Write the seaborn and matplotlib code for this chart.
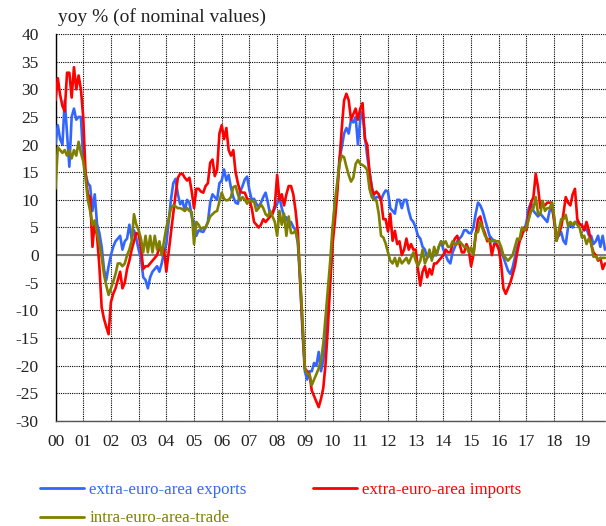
import numpy as np
import pandas as pd
import matplotlib
matplotlib.use("Agg")
import matplotlib.pyplot as plt
import seaborn as sns

# monthly yoy % changes, Jan 2000 - Nov 2019
exports = [
    20, 23.5, 21, 20, 28, 22, 16, 25, 26.5, 24.5, 25, 25,            # 2000
    17.7, 14.7, 13, 12.5, 8, 11, 5.6, 4, 1.5, -2.5, -4.5, -2,        # 2001
    0, 1.5, 2.5, 3, 3.5, 1, 2.5, 3, 5.5, 3, 4.5, 3,                  # 2002
    1, -0.5, -4, -4.5, -6, -4, -3, -2.5, -2, -3, -1.5, 0.5,          # 2003
    2, 6, 10, 13, 13.8, 11, 9.2, 9.8, 8, 10, 9.5, 7,                 # 2004
    5.5, 3.5, 4.5, 4.3, 4.2, 5, 6, 9.5, 11, 10.5, 10, 13,            # 2005
    13.5, 15.5, 13.5, 14.5, 12.2, 10.5, 9.5, 9.3, 11.5, 12.5, 13.7, 14.2,  # 2006
    11.7, 10, 10.2, 9.3, 8.7, 9.5, 10.5, 11.3, 9.5, 7.1, 7.5, 8.5,   # 2007
    9.3, 10.5, 8.5, 7, 6.8, 5.6, 6, 5.1, 4.5, 2, -5, -14,            # 2008
    -21, -22.5, -21, -21, -19.5, -20, -17.5, -21, -19, -15, -10, -4, # 2009
    4, 9, 12, 17.5, 19.5, 22, 23, 22, 24.5, 24, 25, 20,              # 2010
    24.5, 26, 21.5, 18, 15, 12.5, 10, 10.5, 10.5, 10, 11, 11.7,      # 2011
    11.5, 8.5, 8, 7.5, 10, 10, 8.5, 10, 10, 8, 6.5, 6,               # 2012
    5, 3.5, 3, 1.5, 1, -0.5, 0, -0.5, 0, 0, 1.5, 2.5,                # 2013
    1, 0, -1, -1.5, 0.5, 1.5, 2.5, 3, 3.5, 4.5, 4.5, 4,              # 2014
    4, 5, 7.5, 9.5, 9, 8, 6.5, 5, 3.5, 3, 2.5, 2,                    # 2015
    1.4, 0.8, -0.4, -1.6, -2.8, -3.4, -2.2, -0.4, 1.4, 2.7, 3.9, 4.4,  # 2016
    6, 8.5, 9.5, 8, 7.5, 7, 7.5, 7, 6.5, 6, 8, 8.5,                  # 2017
    6.5, 3.2, 3.5, 4.2, 2.6, 2, 5, 5.5, 5, 6, 6, 5.6,                # 2018
    5.4, 4.5, 4.8, 3.6, 3.5, 2, 2.5, 3.5, 1.5, 3.5, 1,               # 2019
]

imports = [
    28, 32, 29, 27, 26, 33, 33, 28.5, 34, 30, 32.5, 30,              # 2000
    25, 15, 11, 10.5, 1.5, 6, 3.4, -2, -9.5, -11.5, -13, -14.3,      # 2001
    -8.5, -7, -6, -4.5, -3, -6, -5, -2.5, -1, 1, 2.5, 4,             # 2002
    3.8, 1.4, -2.5, -2, -2, -1.5, -1, -0.5, 0, 1.5, 0.5, 1,          # 2003
    -3, 0.5, 4, 7.5, 11, 14, 14.7, 14.7, 14, 13.5, 14, 11.5,         # 2004
    8.5, 12, 12, 11.5, 11.3, 12.5, 13, 16.7, 17.3, 14.3, 15.5, 22,   # 2005
    23.5, 21, 23, 19, 18, 19, 15, 13, 11.5, 11.3, 11.3, 10.2,        # 2006
    10, 8.5, 6, 5.5, 5, 5.5, 6.5, 6, 6.5, 7, 7.5, 9,                 # 2007
    14.5, 10, 11, 9, 11, 12.5, 12.5, 11, 8, 4, -5, -13,              # 2008
    -20.5, -21, -21.5, -24.5, -25.5, -26.5, -27.5, -26, -24, -19.5, -13, -5,  # 2009
    2, 6, 11, 17, 23, 28, 29.2, 28, 24.5, 25.5, 26.5, 24.5,          # 2010
    26.5, 27.5, 21, 20, 15, 12, 11, 11.5, 11, 10, 6.5, 6.5,          # 2011
    4.3, 7.5, 2.6, 4.4, 2, 2.5, 0, 1, 3, 1, 2, 1,                    # 2012
    1, -2.5, -5.5, -3, -2, -4, -2.5, -3.5, -1.5, -1.5, -1, -0.5,     # 2013
    0, 1, 0.5, 0.5, 2, 3, 3.5, 2, 0.5, 0.5, 2, 1,                    # 2014
    -2, 0, 3.5, 6.5, 7, 5, 4, 2.5, 3, 0, 2, 2,                       # 2015
    1, -1.5, -6, -7, -6, -5, -3.5, -2, 0.5, 2.5, 3.5, 5,             # 2016
    4.5, 7.5, 9.5, 10.5, 14.7, 12.3, 8.5, 9.3, 9, 9.5, 9.5, 9.5,     # 2017
    6, 2.6, 4, 5, 7.5, 10.5, 9.5, 9, 11, 12, 6.5, 5.6,               # 2018
    5.4, 4.5, 6, 4.5, 2, 0.5, 0, -1, -0.5, -2.5, -1.5,               # 2019
]

intra = [
    12, 19.5, 19, 18.5, 19, 18, 19, 17.5, 19, 18, 20.5, 18.5,        # 2000
    17, 14, 10, 8, 5.5, 6.3, 4, 2, -0.4, -3.5, -5.5, -7.2,           # 2001
    -6, -4.8, -3.4, -1.5, -1.5, -2, -1.5, 0, 1, 2.6, 7.4, 5.5,       # 2002
    4.5, 3, 0.5, 3.5, 0.5, 3.5, 0.5, 3.5, 1, 2.5, 0, 2.5,            # 2003
    5, 6.5, 8.5, 9, 8.8, 8.5, 8.5, 8.3, 8, 8.5, 8, 7.8,              # 2004
    2, 6, 5.5, 4.7, 5, 5, 5.9, 7, 7.4, 7.8, 8, 9.7,                  # 2005
    11.3, 10.2, 9.9, 10, 10.5, 12.3, 12.5, 11, 9.9, 10.5, 10, 9.3,   # 2006
    10, 9.7, 9.7, 8, 8.5, 9.2, 8.5, 7.4, 7, 8, 7, 6,                 # 2007
    3.5, 8, 5.5, 7.5, 3.5, 7, 4, 4, 4.5, 2.5, -4, -12,               # 2008
    -20.5, -21.5, -21.5, -23.5, -22.5, -21.5, -20.5, -19, -16, -11, -6, -1,  # 2009
    5, 9.5, 13, 16.5, 18, 17.7, 16, 14.5, 13.3, 14, 16.5, 17.2,      # 2010
    16.5, 16.3, 16, 15.4, 12, 10.5, 10, 9.9, 7.5, 3.5, 3.2, 2.1,     # 2011
    0.5, -1, -1.5, -0.5, -2, -0.5, -1.5, -1, -0.5, -1.5, -0.5, 0.5,  # 2012
    -1, -2, -1, 1, -1.5, -0.5, 1, -1, 1.5, 0, 1.5, 2.5,              # 2013
    2, 2.5, 1.5, 1.5, 2.5, 2, 2, 2.5, 2, 1.5, 1.5, 0.5,              # 2014
    1.4, 0, 4, 4.2, 6, 4.8, 3.5, 3, 2.5, 2.5, 2.7, 2.5,              # 2015
    2.5, 1.5, 0, -0.5, -1, -0.5, 0, 1.5, 3, 2.8, 5, 4.5,             # 2016
    5, 6.5, 8, 8.5, 10.5, 7.5, 7.5, 9.8, 8, 8.5, 8.5, 9.5,           # 2017
    7, 2.6, 4.5, 6.5, 6.5, 7.3, 5.3, 6, 5.5, 6, 5.5, 5,              # 2018
    3.2, 3.5, 2, 3, 2.2, -0.3, -0.2, -0.8, -0.5, -0.5, -0.5,         # 2019
]

year_labels = ["%02d" % y for y in range(20)]
y_ticks = list(range(-30, 45, 5))

names = ["extra-euro-area exports", "intra-euro-area-trade", "extra-euro-area imports"]
colors = {"extra-euro-area exports": "#3366ff",
          "extra-euro-area imports": "#ff0000",
          "intra-euro-area-trade": "#808000"}

# time axis in years since Jan 2000
t = np.arange(len(exports)) / 12.0
df = pd.DataFrame({
    "t": np.concatenate([t, t, t]),
    "value": exports + imports + intra,
    "series": (["extra-euro-area exports"] * len(exports)
               + ["extra-euro-area imports"] * len(imports)
               + ["intra-euro-area-trade"] * len(intra)),
})

sns.set_style("white")
plt.rcParams["font.family"] = ["Liberation Serif", "DejaVu Serif"]
plt.rcParams["axes.unicode_minus"] = False

fig = plt.figure(figsize=(6.06, 5.26), dpi=100)
ax = fig.add_axes([55.5 / 606, 105 / 526, (606 - 55.5) / 606, 387 / 526])

for s in ["extra-euro-area exports", "extra-euro-area imports", "intra-euro-area-trade"]:
    sns.lineplot(data=df[df["series"] == s], x="t", y="value", ax=ax,
                 color=colors[s], linewidth=1.9, label=s, legend=False,
                 zorder=3)

ax.set_xlim(0, 19.87)
ax.set_ylim(-30, 40)
ax.set_xticks(range(20))
ax.set_xticklabels(year_labels)
ax.set_yticks(y_ticks)
ax.set_xlabel("")
ax.set_ylabel("")
ax.tick_params(axis="both", length=0, labelsize=12.5, colors="#222222")
ax.tick_params(axis="x", pad=9.5)
ax.tick_params(axis="y", pad=12)

ax.grid(True, color="black", linestyle=(0, (1, 1)), linewidth=0.8)
ax.set_axisbelow(True)
ax.axhline(0, color="#808080", linewidth=1.4, zorder=1.5)

for side in ["top", "right"]:
    ax.spines[side].set_visible(False)
ax.spines["left"].set_color("black")
ax.spines["left"].set_linewidth(1.0)
ax.spines["bottom"].set_color("#555555")
ax.spines["bottom"].set_linestyle((0, (1, 1)))
ax.spines["bottom"].set_linewidth(1.0)

fig.text(58 / 606, 1 - 17 / 526, "yoy % (of nominal values)", fontsize=14,
         va="center", ha="left", color="#222222")

# legend: two columns, text in series colour
handles = [plt.Line2D([], [], color=colors[n], linewidth=2) for n in names]
leg = fig.legend(handles, names, loc="upper left", ncol=2,
                 bbox_to_anchor=(25 / 606, 1 - 467 / 526), frameon=False,
                 fontsize=12.2, handlelength=2.6, handletextpad=0.3,
                 columnspacing=3.9, labelspacing=0.72)
for txt, n in zip(leg.get_texts(), names):
    txt.set_color(colors[n])

fig.savefig("out.png", dpi=100)
